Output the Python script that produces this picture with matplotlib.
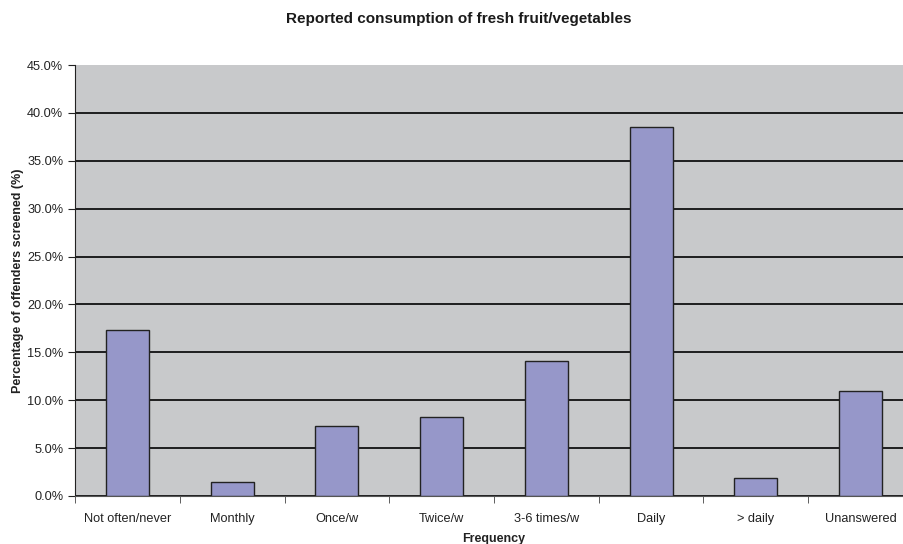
import numpy as np
import matplotlib.pyplot as plt
from matplotlib.ticker import FixedLocator, PercentFormatter

plt.rcParams['font.family'] = ['Liberation Sans', 'DejaVu Sans']

# Reported fresh fruit/vegetable consumption (% of offenders screened)
categories = ["Not often/never", "Monthly", "Once/w", "Twice/w",
              "3-6 times/w", "Daily", "> daily", "Unanswered"]
percent = [17.3, 1.5, 7.3, 8.3, 14.1, 38.5, 1.9, 11.0]

fig = plt.figure(figsize=(9.04, 5.44), dpi=100)
# plot area runs a little past the right edge of the figure
ax = fig.add_axes([75 / 904, 48 / 544, 838 / 904, 431 / 544])
ax.set_facecolor("#c8c9cb")

x = np.arange(len(categories))
ax.bar(x, percent, width=0.41, color="#9697c9", edgecolor="#222222",
       linewidth=1.0, zorder=3)

ax.set_xlim(-0.5, len(categories) - 0.5)
ax.set_ylim(0, 45)
ax.set_yticks(np.arange(0, 46, 5))
ax.yaxis.set_major_formatter(PercentFormatter(decimals=1))
ax.grid(axis="y", color="#111111", linewidth=1.3, zorder=1)
ax.get_ygridlines()[-1].set_visible(False)

# labels centred under bars, tick marks between categories
ax.set_xticks(x)
ax.set_xticklabels(categories)
ax.xaxis.set_minor_locator(FixedLocator(np.arange(-0.5, len(categories), 1)))
ax.tick_params(axis="x", which="major", length=0, pad=12, labelsize=9.2,
               labelcolor="#222222")
ax.tick_params(axis="x", which="minor", length=5, direction="out",
               color="#444444")
ax.tick_params(axis="y", length=5, direction="out", labelsize=9.2,
               color="#222222", labelcolor="#222222")

for side in ("top", "right"):
    ax.spines[side].set_visible(False)
ax.spines["left"].set_color("#222222")
ax.spines["bottom"].set_color("#555555")

ax.set_xlabel("Frequency", fontsize=9, fontweight="bold", labelpad=6,
              color="#222222")
ax.set_ylabel("Percentage of offenders screened (%)", fontsize=9,
              fontweight="bold", labelpad=2, color="#222222")
fig.text(0.507, 0.965, "Reported consumption of fresh fruit/vegetables",
         ha="center", va="center", fontsize=11, fontweight="bold",
         color="#1a1a1a")

fig.savefig("out.png", dpi=100)
